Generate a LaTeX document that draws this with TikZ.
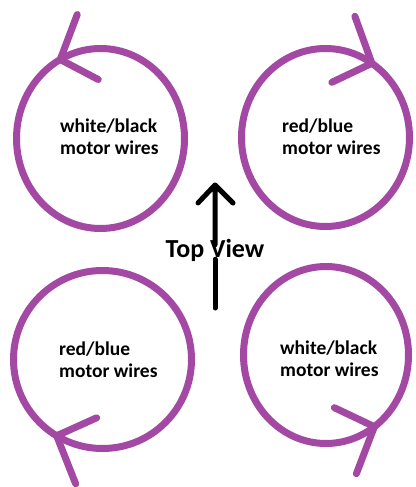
\documentclass[tikz,border=0pt]{standalone}
\usepackage{fontspec}
\setmainfont{Carlito}
\usetikzlibrary{shapes.geometric}
\definecolor{paintpurple}{HTML}{A349A4}
\begin{document}
\begin{tikzpicture}[x=1pt,y=-1pt,line join=round,line cap=round]
			\tikzset{motor/.style={ellipse,draw=paintpurple,line width=7pt,inner sep=0pt,outer sep=0pt},
				barb/.style={draw=paintpurple,line width=7pt},
				wires/.style={anchor=base west,align=left,inner sep=0pt,font=\bfseries\fontsize{19.5}{22}\selectfont},
				pointer/.style={line width=5pt}}
			\useasboundingbox (0,0) rectangle (415,487);
			% motors
			\node[motor,minimum width=168,minimum height=180] (m1) at (100.5,138.5) {};
			\node[motor,minimum width=168,minimum height=178] (m2) at (325.5,137.5) {};
			\node[motor,minimum width=178,minimum height=178] (m3) at (102.5,359.5) {};
			\node[motor,minimum width=165,minimum height=177] (m4) at (326,355) {};
			\node[wires] (l1) at (60,154) {white/black\\motor wires};
			\node[wires] (l2) at (282,154) {red/blue\\motor wires};
			\node[wires] (l3) at (59,377) {red/blue\\motor wires};
			\node[wires] (l4) at (280,376) {white/black\\motor wires};
			% spin directions
			\draw[barb] (m1.117) -- ++(17,-45) (m1.117) -- ++(38,20);
			\draw[barb] (m2.58) -- ++(-17,-47) (m2.58) -- ++(-40,19);
			\draw[barb] (m3.239) -- ++(40,-18) (m3.239) -- ++(19,48);
			\draw[barb] (m4.304) -- ++(-40,-19) (m4.304) -- ++(-18,47);
			% top view
			\node[anchor=base,inner sep=0pt,text height=12pt,text depth=2pt,font=\bfseries\fontsize{26}{28}\selectfont] (view) at (215,257) {Top View};
			\coordinate (tip) at (215,185);
			\coordinate (tail) at (215,308);
			\draw[pointer] (view.north) -- (tip) -- ++(-17,18) (tip) -- ++(18,18);
			\draw[pointer] (view.south) -- (tail);
		\end{tikzpicture}
\end{document}
